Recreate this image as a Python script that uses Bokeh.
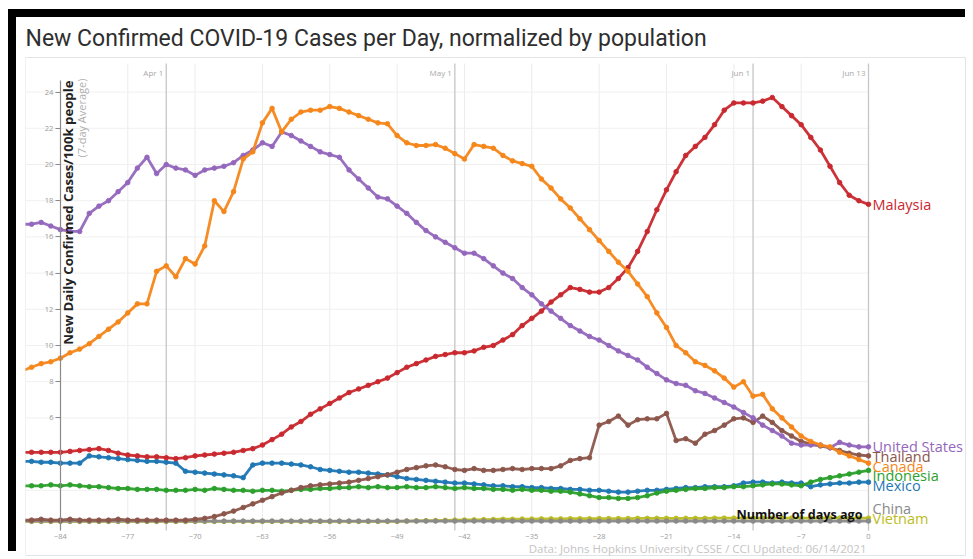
import math
from bokeh.plotting import figure
from bokeh.models import Range1d, LinearAxis, FixedTicker, Label
from bokeh.embed import file_html
from bokeh.resources import INLINE

# ---------------- data ----------------
days = list(range(-88, 1))

malaysia = [4.1, 4.1, 4.1, 4.1, 4.1, 4.15, 4.2, 4.25, 4.3, 4.2,
            4.05, 3.95, 3.9, 3.85, 3.85, 3.8, 3.75, 3.8, 3.9, 3.95,
            4.0, 4.05, 4.1, 4.2, 4.3, 4.5, 4.8, 5.1, 5.5, 5.8,
            6.2, 6.5, 6.8, 7.1, 7.4, 7.6, 7.8, 8.0, 8.2, 8.5,
            8.8, 9.0, 9.2, 9.4, 9.5, 9.6, 9.6, 9.7, 9.9, 10.0,
            10.3, 10.6, 11.1, 11.5, 11.9, 12.4, 12.8, 13.2, 13.1, 12.95,
            12.95, 13.2, 13.7, 14.3, 15.2, 16.3, 17.5, 18.6, 19.6, 20.5,
            21.0, 21.5, 22.2, 23.0, 23.4, 23.4, 23.4, 23.5, 23.7, 23.2,
            22.7, 22.2, 21.5, 20.8, 19.9, 19.0, 18.3, 18.0, 17.8]

united_states = [16.7, 16.7, 16.8, 16.6, 16.4, 16.3, 16.3, 17.3, 17.7, 18.0,
                 18.5, 19.0, 19.8, 20.4, 19.5, 20.0, 19.8, 19.7, 19.4, 19.7,
                 19.8, 19.9, 20.1, 20.5, 20.8, 21.2, 21.0, 21.8, 21.6, 21.3,
                 21.0, 20.7, 20.55, 20.4, 19.7, 19.2, 18.7, 18.2, 18.1, 17.7,
                 17.3, 16.8, 16.35, 16.0, 15.7, 15.4, 15.1, 15.1, 14.8, 14.4,
                 14.0, 13.7, 13.2, 12.8, 12.3, 11.9, 11.5, 11.1, 10.8, 10.5,
                 10.3, 10.0, 9.7, 9.45, 9.2, 8.8, 8.45, 8.1, 7.9, 7.8,
                 7.5, 7.35, 7.1, 6.85, 6.6, 6.3, 6.0, 5.6, 5.3, 5.0,
                 4.6, 4.5, 4.5, 4.5, 4.35, 4.65, 4.5, 4.4, 4.4]

canada = [8.6, 8.8, 9.0, 9.1, 9.3, 9.6, 9.8, 10.1, 10.5, 10.9,
          11.3, 11.8, 12.3, 12.3, 14.1, 14.4, 13.8, 14.8, 14.5, 15.5,
          18.0, 17.4, 18.5, 20.3, 20.7, 22.3, 23.1, 21.8, 22.5, 22.9,
          23.0, 23.0, 23.2, 23.1, 22.9, 22.7, 22.5, 22.3, 22.25, 21.6,
          21.2, 21.05, 21.05, 21.1, 20.9, 20.6, 20.3, 21.1, 21.0, 20.9,
          20.5, 20.2, 20.05, 19.9, 19.2, 18.7, 18.1, 17.6, 17.0, 16.4,
          15.8, 15.2, 14.6, 14.1, 13.4, 12.7, 11.8, 11.0, 10.0, 9.6,
          9.1, 8.9, 8.6, 8.2, 7.7, 8.0, 7.2, 7.3, 6.5, 6.0,
          5.5, 5.0, 4.7, 4.5, 4.4, 4.1, 3.9, 3.7, 3.5]

thailand = [0.35, 0.35, 0.4, 0.35, 0.35, 0.4, 0.35, 0.35, 0.35, 0.35,
            0.4, 0.35, 0.35, 0.35, 0.35, 0.35, 0.35, 0.35, 0.4, 0.45,
            0.55, 0.7, 0.85, 1.05, 1.25, 1.45, 1.65, 1.85, 2.0, 2.15,
            2.25, 2.3, 2.35, 2.4, 2.45, 2.55, 2.65, 2.75, 2.85, 3.0,
            3.15, 3.25, 3.35, 3.4, 3.3, 3.15, 3.1, 3.2, 3.1, 3.1,
            3.15, 3.2, 3.15, 3.2, 3.2, 3.2, 3.35, 3.65, 3.75, 3.8,
            5.6, 5.8, 6.1, 5.6, 5.9, 5.95, 5.95, 6.25, 4.75, 4.85,
            4.6, 5.1, 5.3, 5.6, 5.95, 6.0, 5.75, 6.1, 5.75, 5.3,
            5.0, 4.7, 4.55, 4.45, 4.35, 4.2, 4.05, 3.95, 3.9]

indonesia = [2.25, 2.25, 2.25, 2.3, 2.25, 2.3, 2.25, 2.2, 2.2, 2.15,
             2.1, 2.1, 2.05, 2.05, 2.05, 2.0, 2.0, 2.0, 2.05, 2.0,
             2.1, 2.05, 2.0, 2.0, 1.95, 2.0, 2.0, 1.95, 2.0, 2.05,
             2.05, 2.1, 2.1, 2.15, 2.15, 2.2, 2.15, 2.2, 2.15, 2.15,
             2.2, 2.15, 2.15, 2.2, 2.15, 2.1, 2.15, 2.1, 2.1, 2.05,
             2.05, 2.0, 2.05, 2.0, 2.0, 1.95, 1.95, 1.9, 1.8, 1.7,
             1.6, 1.6, 1.55, 1.55, 1.6, 1.7, 1.85, 1.95, 2.0, 2.05,
             2.1, 2.1, 2.15, 2.15, 2.2, 2.2, 2.25, 2.3, 2.35, 2.35,
             2.3, 2.25, 2.45, 2.6, 2.7, 2.8, 2.9, 3.0, 3.1]

mexico = [3.6, 3.6, 3.55, 3.55, 3.5, 3.5, 3.5, 3.9, 3.85, 3.8,
          3.75, 3.7, 3.65, 3.6, 3.6, 3.55, 3.5, 3.05, 3.0, 2.95,
          2.9, 2.85, 2.8, 2.7, 3.4, 3.5, 3.5, 3.5, 3.45, 3.4,
          3.3, 3.15, 3.1, 3.05, 3.0, 3.0, 2.95, 2.9, 2.85, 2.75,
          2.65, 2.6, 2.55, 2.5, 2.45, 2.4, 2.4, 2.35, 2.3, 2.25,
          2.25, 2.2, 2.2, 2.15, 2.15, 2.1, 2.1, 2.05, 2.05, 2.0,
          2.0, 1.95, 1.9, 1.9, 1.95, 2.0, 2.0, 2.05, 2.1, 2.15,
          2.15, 2.2, 2.2, 2.2, 2.25, 2.4, 2.45, 2.45, 2.4, 2.45,
          2.4, 2.4, 2.2, 2.3, 2.35, 2.4, 2.4, 2.45, 2.45]

china = [0.3, 0.3, 0.3, 0.3, 0.3, 0.3, 0.3, 0.3, 0.3, 0.3,
         0.3, 0.3, 0.3, 0.3, 0.3, 0.3, 0.3, 0.3, 0.3, 0.3,
         0.3, 0.3, 0.3, 0.3, 0.3, 0.3, 0.3, 0.3, 0.3, 0.3,
         0.3, 0.3, 0.3, 0.3, 0.3, 0.3, 0.3, 0.3, 0.3, 0.3,
         0.3, 0.3, 0.3, 0.3, 0.3, 0.3, 0.3, 0.3, 0.3, 0.3,
         0.3, 0.3, 0.3, 0.3, 0.3, 0.3, 0.3, 0.3, 0.3, 0.3,
         0.3, 0.3, 0.3, 0.3, 0.3, 0.3, 0.3, 0.3, 0.3, 0.3,
         0.3, 0.3, 0.3, 0.3, 0.3, 0.3, 0.3, 0.3, 0.3, 0.3,
         0.3, 0.3, 0.3, 0.3, 0.3, 0.3, 0.3, 0.3, 0.3]

vietnam = [0.28, 0.28, 0.28, 0.28, 0.28, 0.28, 0.28, 0.28, 0.28, 0.28,
           0.28, 0.28, 0.28, 0.28, 0.28, 0.28, 0.28, 0.28, 0.28, 0.28,
           0.28, 0.28, 0.28, 0.28, 0.28, 0.28, 0.28, 0.28, 0.28, 0.28,
           0.28, 0.28, 0.28, 0.28, 0.28, 0.28, 0.28, 0.28, 0.28, 0.28,
           0.3, 0.31, 0.32, 0.33, 0.34, 0.35, 0.36, 0.37, 0.38, 0.39,
           0.4, 0.4, 0.41, 0.41, 0.42, 0.42, 0.42, 0.43, 0.43, 0.43,
           0.44, 0.44, 0.44, 0.44, 0.45, 0.45, 0.45, 0.45, 0.45, 0.45,
           0.45, 0.45, 0.46, 0.46, 0.46, 0.46, 0.46, 0.46, 0.46, 0.46,
           0.46, 0.46, 0.46, 0.46, 0.46, 0.46, 0.46, 0.46, 0.46]

x_ticks = [-84, -77, -70, -63, -56, -49, -42, -35, -28, -21, -14, -7, 0]
y_ticks = [6, 8, 10, 12, 14, 16, 18, 20, 22, 24]
y_grid = [2, 4, 6, 8, 10, 12, 14, 16, 18, 20, 22, 24]
date_days = [-73, -43, -12, 0]
date_labels = ["Apr 1", "May 1", "Jun 1", "Jun 13"]

# name, values, colour  (draw order: first is at the bottom)
series = [
    ("Vietnam", vietnam, "#bcbd22"),
    ("China", china, "#8a8a8a"),
    ("Mexico", mexico, "#1f77b4"),
    ("Indonesia", indonesia, "#2ca02c"),
    ("Thailand", thailand, "#8c564b"),
    ("Malaysia", malaysia, "#c9282e"),
    ("United States", united_states, "#9467bd"),
    ("Canada", canada, "#f5861a"),
]
for _, vals, _ in series:
    assert len(vals) == len(days)

TITLE = "New Confirmed COVID-19 Cases per Day, normalized by population"
YLABEL = "New Daily Confirmed Cases/100k people"
YSUB = "(7-day Average)"
XLABEL = "Number of days ago"
CREDIT = "Data: Johns Hopkins University CSSE / CCI Updated: 06/14/2021"

FONT = "Open Sans"

# ---------------- layout (pixel geometry of the page) ----------------
W, H = 957, 542          # canvas, placed at page (16, 17)
OX, OY = 16, 17
BL = 9                    # white strip left of the chart panel
PXD, X0 = 9.62, 868.0     # px per day, page x of day 0
PYU, Y0 = 18.1, 526.0     # px per unit, page y of value 0

def xd(px):
    return (px - X0) / PXD

def yd(py):
    return (Y0 - py) / PYU

x_lo, x_hi = xd(OX + BL), xd(OX + W)
y_lo, y_hi = yd(OY + H), yd(OY)
plot_bottom, plot_top = yd(530), yd(63)
plot_left = xd(25)

p = figure(width=W, height=H, output_backend="svg", toolbar_location=None,
           x_range=Range1d(x_lo, x_hi), y_range=Range1d(y_lo, y_hi),
           x_axis_location=None, y_axis_location=None,
           min_border_left=BL, min_border_right=0, min_border_top=0, min_border_bottom=0)
p.styles = {"margin-left": "%dpx" % OX, "margin-top": "%dpx" % OY,
            "box-shadow": "-8px -8px 0 0 #000000"}
p.outline_line_color = None
p.background_fill_color = "#ffffff"
p.border_fill_color = "#ffffff"
p.xgrid.visible = False
p.ygrid.visible = False

# faint chart panel outline
p.quad(left=[plot_left], right=[xd(965)], top=[yd(57)], bottom=[yd(555)],
       fill_color=None, line_color="#e4e4e4", line_width=1, level="underlay")

# grid lines (limited to the plot area)
vg = [t for t in x_ticks if t not in (-84, 0)]
p.segment(x0=vg, x1=vg, y0=[plot_bottom] * len(vg), y1=[plot_top] * len(vg),
          line_color="#ececec", line_width=1, level="underlay")
p.segment(x0=[plot_left] * len(y_grid), x1=[0] * len(y_grid), y0=y_grid, y1=y_grid,
          line_color="#f0f0f0", line_width=1, level="underlay")
p.segment(x0=date_days, x1=date_days, y0=[plot_bottom] * len(date_days),
          y1=[plot_top] * len(date_days), line_color="#c6c6c6", line_width=1.3,
          level="underlay")

# x axis labels just below the plot area
xa = LinearAxis(fixed_location=yd(526), ticker=FixedTicker(ticks=x_ticks),
                axis_line_color=None, major_tick_line_color=None,
                minor_tick_line_color=None,
                major_label_text_font_size="7.5px", major_label_text_color="#9a9a9a",
                major_label_text_font=FONT, major_label_standoff=1)
p.add_layout(xa, "below")

# y axis placed at day -84
ya = LinearAxis(fixed_location=-84, ticker=FixedTicker(ticks=y_ticks),
                axis_line_color="#8a8a8a", axis_line_width=1.2,
                major_tick_line_color="#8a8a8a", major_tick_out=5, major_tick_in=0,
                minor_tick_line_color=None,
                major_label_text_font_size="7.5px", major_label_text_color="#9a9a9a",
                major_label_text_font=FONT, major_label_standoff=2,
                bounds=(plot_bottom, yd(80)))
p.add_layout(ya, "left")

# series
for name, vals, col in series:
    p.line(days, vals, line_color=col, line_width=2.8, line_alpha=0.95)
    p.scatter(days, vals, size=4.6, fill_color=col, line_color=col, line_alpha=0.9)

# end labels, spread so they don't collide
GAP = 9.6 / PYU
FLOOR = yd(518)
order = ["United States", "Thailand", "Canada", "Indonesia", "Mexico", "China", "Vietnam"]
last = {n: v[-1] for n, v, _ in series}
colors = {n: c for n, _, c in series}
pos = {}
prev = None
for n in order:
    pos[n] = last[n] if prev is None else min(last[n], pos[prev] - GAP)
    prev = n
nxt = None
for n in reversed(order):
    pos[n] = max(pos[n], FLOOR) if nxt is None else max(pos[n], pos[nxt] + GAP)
    nxt = n
pos["Malaysia"] = last["Malaysia"]
for n in ["Malaysia"] + order:
    p.add_layout(Label(x=0, y=pos[n], x_offset=4, text=n, text_color=colors[n],
                       text_font=FONT, text_font_size="14.5px",
                       text_baseline="middle", text_align="left"))

# date labels at top
for d, t in zip(date_days, date_labels):
    p.add_layout(Label(x=d, y=yd(72), x_offset=-3, text=t, text_color="#a8a8a8",
                       text_font=FONT, text_font_size="8px",
                       text_baseline="middle", text_align="right"))

# axis titles
p.add_layout(Label(x=-84, y=yd(80), x_offset=8, text=YLABEL, angle=math.pi / 2,
                   text_font=FONT, text_font_size="13.2px", text_font_style="bold",
                   text_color="#222222", text_align="right", text_baseline="middle"))
p.add_layout(Label(x=-84, y=yd(78), x_offset=21, text=YSUB, angle=math.pi / 2,
                   text_font=FONT, text_font_size="11px",
                   text_color="#b0b0b0", text_align="right", text_baseline="middle"))

p.add_layout(Label(x=0, y=yd(514), x_offset=-6, text=XLABEL, text_font=FONT,
                   text_font_size="12.6px", text_font_style="bold", text_color="#111111",
                   text_align="right", text_baseline="middle"))
p.add_layout(Label(x=0, y=yd(548), x_offset=-2, text=CREDIT, text_font=FONT,
                   text_font_size="11.5px", text_color="#c4c4c4",
                   text_align="right", text_baseline="middle"))

# title
p.add_layout(Label(x=plot_left, y=yd(38), text=TITLE, text_font="Roboto",
                   text_font_size="23px", text_color="#2e2e2e",
                   text_align="left", text_baseline="middle"))

open("out.html", "w").write(file_html(p, INLINE))
